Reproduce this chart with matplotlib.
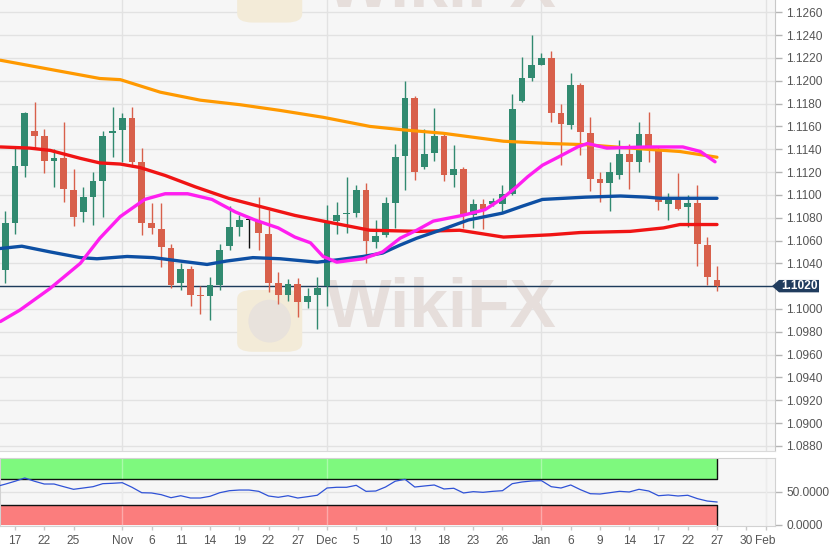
import matplotlib
matplotlib.use('agg')
import matplotlib.pyplot as plt
from matplotlib.patches import Polygon, FancyBboxPatch, Ellipse
from matplotlib.ticker import FormatStrFormatter, FuncFormatter
import numpy as np
import pandas as pd

plt.rcParams['font.family'] = ['Liberation Sans', 'DejaVu Sans']

# EUR/USD daily candles, weekdays 16 Oct 2019 - 27 Jan 2020
dates = pd.bdate_range('2019-10-16', '2020-01-27')
axis_dates = pd.bdate_range('2019-10-16', '2020-02-03')

opens = [1.1034, 1.1075, 1.1125, 1.1156, 1.1152, 1.1130, 1.1132, 1.1104, 1.1085, 1.1098,
         1.1112, 1.1154, 1.1157, 1.1167, 1.1129, 1.1075, 1.1070, 1.1053, 1.1023, 1.1035,
         1.1012, 1.1011, 1.1021, 1.1055, 1.1072, 1.1078, 1.1077, 1.1066, 1.1023, 1.1012,
         1.1022, 1.1006, 1.1012, 1.1020, 1.1077, 1.1083, 1.1084, 1.1104, 1.1059, 1.1065,
         1.1093, 1.1134, 1.1185, 1.1124, 1.1137, 1.1152, 1.1117, 1.1123, 1.1082, 1.1092,
         1.1092, 1.1092, 1.1101, 1.1182, 1.1202, 1.1214, 1.1220, 1.1172, 1.1161, 1.1196,
         1.1154, 1.1114, 1.1110, 1.1117, 1.1136, 1.1129, 1.1153, 1.1139, 1.1092, 1.1097,
         1.1089, 1.1093, 1.1056, 1.1025]
highs = [1.1086, 1.1141, 1.1173, 1.1181, 1.1158, 1.1140, 1.1164, 1.1123, 1.1107, 1.1120,
         1.1156, 1.1177, 1.1172, 1.1177, 1.1141, 1.1093, 1.1093, 1.1057, 1.1040, 1.1038,
         1.1020, 1.1028, 1.1057, 1.1090, 1.1082, 1.1081, 1.1098, 1.1087, 1.1032, 1.1026,
         1.1027, 1.1018, 1.1028, 1.1091, 1.1094, 1.1116, 1.1109, 1.1110, 1.1078, 1.1098,
         1.1145, 1.1200, 1.1187, 1.1158, 1.1176, 1.1154, 1.1144, 1.1124, 1.1096, 1.1096,
         1.1097, 1.1109, 1.1188, 1.1221, 1.1240, 1.1224, 1.1226, 1.1180, 1.1207, 1.1198,
         1.1168, 1.1120, 1.1129, 1.1148, 1.1145, 1.1164, 1.1173, 1.1142, 1.1102, 1.1119,
         1.1100, 1.1109, 1.1063, 1.1038]
lows = [1.1023, 1.1066, 1.1116, 1.1142, 1.1119, 1.1107, 1.1094, 1.1073, 1.1076, 1.1074,
        1.1081, 1.1133, 1.1129, 1.1124, 1.1065, 1.1066, 1.1037, 1.1018, 1.1017, 1.1003,
        1.0996, 1.0990, 1.1017, 1.1052, 1.1064, 1.1053, 1.1052, 1.1015, 1.1004, 1.1007,
        1.0993, 1.1001, 1.0982, 1.1003, 1.1066, 1.1067, 1.1081, 1.1040, 1.1053, 1.1063,
        1.1071, 1.1104, 1.1113, 1.1123, 1.1130, 1.1112, 1.1107, 1.1071, 1.1071, 1.1070,
        1.1090, 1.1085, 1.1100, 1.1181, 1.1200, 1.1214, 1.1164, 1.1126, 1.1158, 1.1135,
        1.1103, 1.1094, 1.1086, 1.1114, 1.1105, 1.1120, 1.1129, 1.1087, 1.1078, 1.1087,
        1.1072, 1.1038, 1.1021, 1.1016]
closes = [1.1075, 1.1125, 1.1172, 1.1152, 1.1130, 1.1132, 1.1105, 1.1081, 1.1098, 1.1112,
          1.1152, 1.1156, 1.1167, 1.1129, 1.1075, 1.1071, 1.1054, 1.1021, 1.1035, 1.1012,
          1.1011, 1.1021, 1.1052, 1.1072, 1.1078, 1.1078, 1.1067, 1.1023, 1.1012, 1.1022,
          1.1006, 1.1011, 1.1018, 1.1075, 1.1082, 1.1084, 1.1104, 1.1060, 1.1064, 1.1093,
          1.1133, 1.1185, 1.1120, 1.1136, 1.1152, 1.1117, 1.1123, 1.1082, 1.1092, 1.1088,
          1.1095, 1.1101, 1.1175, 1.1202, 1.1214, 1.1220, 1.1172, 1.1162, 1.1196, 1.1155,
          1.1114, 1.1110, 1.1120, 1.1136, 1.1129, 1.1153, 1.1139, 1.1094, 1.1097, 1.1088,
          1.1093, 1.1057, 1.1028, 1.1020]

# moving averages (x = trading-day index from 16 Oct)
sma20_x = [-0.5, 1.5, 4.6, 7.7, 9.7, 11.8, 14.3, 16.4, 18.7, 21.2, 23.6, 25.6, 28.0, 29.7,
           31.3, 32.6, 34.0, 36.7, 38.7, 40.5, 42.2, 43.9, 46.9, 49.2, 51.0, 52.3, 53.6,
           55.1, 56.7, 58.7, 59.7, 61.7, 65.8, 69.5, 71.3, 72.8]
sma20_y = [1.0989, 1.0999, 1.1018, 1.1040, 1.1062, 1.1081, 1.1096, 1.1101, 1.1101, 1.1096,
           1.1085, 1.1078, 1.1071, 1.1063, 1.1058, 1.1046, 1.1041, 1.1044, 1.1050, 1.1062,
           1.1069, 1.1077, 1.1082, 1.1087, 1.1097, 1.1106, 1.1116, 1.1126, 1.1133, 1.1142,
           1.1145, 1.1141, 1.1142, 1.1142, 1.1138, 1.1129]
sma50_x = [-0.5, 1.7, 4.6, 7.7, 9.4, 12.5, 15.2, 17.9, 20.7, 22.7, 25.4, 28.2, 32.0, 34.0,
           36.7, 38.7, 40.5, 42.2, 44.6, 47.5, 51.0, 53.0, 55.1, 59.5, 63.1, 65.8, 67.2, 73.0]
sma50_y = [1.1053, 1.1055, 1.1050, 1.1045, 1.1044, 1.1046, 1.1045, 1.1042, 1.1039, 1.1042,
           1.1045, 1.1044, 1.1041, 1.1043, 1.1046, 1.1049, 1.1056, 1.1062, 1.1069, 1.1078,
           1.1084, 1.1090, 1.1096, 1.1098, 1.1099, 1.1098, 1.1097, 1.1097]
sma100_x = [-0.5, 2.5, 4.6, 7.7, 9.7, 11.8, 13.8, 16.4, 19.5, 22.9, 25.6, 29.7, 32.6, 37.4,
            42.5, 46.6, 51.1, 55.9, 59.0, 64.1, 67.5, 69.2, 73.0]
sma100_y = [1.1142, 1.1141, 1.1139, 1.1132, 1.1128, 1.1127, 1.1124, 1.1117, 1.1107, 1.1097,
            1.1091, 1.1082, 1.1077, 1.1069, 1.1068, 1.1069, 1.1063, 1.1065, 1.1067, 1.1068,
            1.1071, 1.1074, 1.1074]
sma200_x = [-0.5, 9.7, 11.8, 15.9, 20.0, 24.1, 28.2, 32.6, 37.4, 40.8, 44.9, 51.1, 55.9,
            59.5, 64.1, 69.2, 73.0]
sma200_y = [1.1218, 1.1202, 1.1201, 1.1190, 1.1183, 1.1179, 1.1174, 1.1168, 1.1160, 1.1157,
            1.1154, 1.1147, 1.1145, 1.1144, 1.1141, 1.1138, 1.1133]

# oscillator, 15 Oct 2019 - 27 Jan 2020
rsi_dates = pd.bdate_range('2019-10-15', '2020-01-27')
rsi = [58.0, 62.0, 66.4, 71.4, 66.4, 62.2, 62.2, 58.1, 54.1, 56.1, 58.1,
       62.7, 63.3, 64.2, 57.2, 48.9, 48.5, 45.9, 41.3, 44.3, 40.8,
       40.8, 43.4, 48.9, 52.0, 53.0, 53.0, 51.0, 43.9, 41.9, 44.3,
       40.8, 42.8, 45.0, 56.1, 57.2, 57.2, 60.2, 51.0, 51.5, 57.6,
       66.5, 69.4, 57.6, 59.2, 60.7, 54.6, 55.7, 48.5, 50.5, 49.5,
       51.0, 52.0, 62.7, 65.3, 66.8, 67.3, 58.1, 56.1, 60.7, 53.5,
       47.4, 46.9, 48.9, 51.0, 50.0, 54.1, 51.5, 44.3, 45.4, 43.9,
       45.0, 39.8, 36.2, 34.7]
rsi_low, rsi_high = 30, 70

tick_dates = ['2019-10-17', '2019-10-22', '2019-10-25', '2019-11-01', '2019-11-06',
              '2019-11-11', '2019-11-14', '2019-11-19', '2019-11-22', '2019-11-27',
              '2019-12-02', '2019-12-05', '2019-12-10', '2019-12-13', '2019-12-18',
              '2019-12-23', '2019-12-26', '2020-01-01', '2020-01-06', '2020-01-09',
              '2020-01-14', '2020-01-17', '2020-01-22', '2020-01-27', '2020-01-30',
              '2020-02-03']
tick_labels = ['17', '22', '25', 'Nov', '6', '11', '14', '19', '22', '27', 'Dec', '5', '10',
               '13', '18', '23', '26', 'Jan', '6', '9', '14', '17', '22', '27', '30', 'Feb']
month_starts = ['2019-11-01', '2019-12-02', '2020-01-01', '2020-02-03']


def day_index(d):
    return axis_dates.get_loc(pd.Timestamp(d))


def price_label(v, pos):
    # the last price gets its own tag, so leave that tick label empty
    if abs(v - closes[-1]) < 1e-6:
        return ''
    return f'{v:.4f}'


W, H = 830, 555
fig = plt.figure(figsize=(W / 100, H / 100), dpi=100)
fig.patch.set_facecolor('white')
ax = fig.add_axes([0, 1 - 451 / H, 775 / W, 451 / H])
ax2 = fig.add_axes([0, (H - 525.5) / H, 775 / W, 67.8 / H])

bg = '#f6f6f6'
grid_c = '#e2e2e2'
xlim = (-0.54, 78.95)

# ---- main panel
ax.set_facecolor(bg)
ax.set_xlim(*xlim)
ax.set_ylim(1.08755, 1.12708)
ax.set_yticks(np.round(np.arange(1.088, 1.12605, 0.002), 4))
ax.yaxis.set_major_formatter(FuncFormatter(price_label))
ax.grid(axis='y', color=grid_c, lw=1, zorder=0)
ax.set_axisbelow(True)
for d in month_starts:
    ax.axvline(day_index(d), color=grid_c, lw=1, zorder=0)
ax.set_xticks([])

# watermark
ax.text(0.57, 0.315, 'WikiFX', transform=ax.transAxes, ha='center', va='center',
        fontsize=50, fontweight='bold', color='#e6dedb', zorder=1)
ax.add_patch(FancyBboxPatch((0.306, 0.22), 0.084, 0.137, transform=ax.transAxes,
                            boxstyle='round,pad=0,rounding_size=0.02', fc='#f3ebd8',
                            ec='none', zorder=1))
ax.add_patch(Ellipse((0.348, 0.288), 0.055, 0.095, transform=ax.transAxes,
                     fc='#e8e2dc', ec='none', zorder=1))
ax.text(0.57, 1.025, 'WikiFX', transform=ax.transAxes, ha='center', va='center',
        fontsize=50, fontweight='bold', color='#e6dedb', zorder=1, clip_on=True)
ax.add_patch(FancyBboxPatch((0.306, 0.95), 0.084, 0.137, transform=ax.transAxes,
                            boxstyle='round,pad=0,rounding_size=0.02', fc='#f3ebd8',
                            ec='none', zorder=1, clip_on=True))

# candles
x = np.array([day_index(d) for d in dates])
o = np.array(opens)
c = np.array(closes)
cols = np.where(c > o, '#318a70', np.where(c < o, '#d8604b', '#111111'))
ax.vlines(x, lows, highs, colors=cols, lw=1, zorder=3)
body = np.maximum(np.abs(c - o), 0.00009)
ax.bar(x, body, bottom=np.minimum(o, c), width=0.68, color=cols, lw=0, zorder=3)

# current price line
ax.axhline(closes[-1], color='#1d3b5c', lw=1, zorder=2)

# moving averages
ax.plot(sma200_x, sma200_y, color='#ff9900', lw=2.3, zorder=4, solid_capstyle='round')
ax.plot(sma100_x, sma100_y, color='#f01414', lw=2.4, zorder=4, solid_capstyle='round')
ax.plot(sma50_x, sma50_y, color='#0d4fa3', lw=2.4, zorder=4, solid_capstyle='round')
ax.plot(sma20_x, sma20_y, color='#ff1ef0', lw=2.4, zorder=4, solid_capstyle='round')

ax.yaxis.tick_right()
ax.tick_params(axis='y', direction='out', length=5, width=1, color='#b5b5b5',
               labelcolor='#555555', labelsize=8.6, pad=3)
for s in ['left', 'top']:
    ax.spines[s].set_visible(False)
ax.spines['right'].set_color('#c8c8c8')
ax.spines['bottom'].set_color('#dadada')

# ---- oscillator panel
ax2.set_facecolor(bg)
ax2.set_xlim(*xlim)
ax2.set_ylim(-1.2, 102.4)
rx = [day_index(d) if d in axis_dates else day_index(axis_dates[0]) - 1 for d in rsi_dates]
band_end = x[-1]
ax2.fill_between([xlim[0], band_end], rsi_high, 100, color='#7ef97e', lw=0, zorder=1)
ax2.fill_between([xlim[0], band_end], 0, rsi_low, color='#fb7d7d', lw=0, zorder=1)
ax2.plot([xlim[0], band_end, band_end], [rsi_high, rsi_high, 100], color='#111111', lw=1, zorder=2)
ax2.plot([xlim[0], band_end, band_end], [rsi_low, rsi_low, 0], color='#111111', lw=1, zorder=2)
ax2.axhline(50, color=grid_c, lw=1, zorder=0)
for d in month_starts:
    ax2.axvline(day_index(d), color=grid_c, lw=1, zorder=0)
    ax2.axvline(day_index(d), color='white', lw=1, alpha=0.35, zorder=1.5)
ax2.plot(rx, rsi, color='#2f52d6', lw=0.9, zorder=3)

ax2.yaxis.tick_right()
ax2.set_yticks([0, 50])
ax2.yaxis.set_major_formatter(FormatStrFormatter('%.4f'))
ax2.set_xticks([day_index(d) for d in tick_dates])
ax2.set_xticklabels(tick_labels)
ax2.tick_params(axis='y', direction='out', length=5, width=1, color='#b5b5b5',
                labelcolor='#555555', labelsize=8.6, pad=3)
ax2.tick_params(axis='x', direction='out', length=3, width=1, color='#c8c8c8',
                labelcolor='#555555', labelsize=8.6, pad=4)
for s in ax2.spines.values():
    s.set_color('#d2d2d2')

# price tag on the right axis
yd = ax.transData.transform((0, closes[-1]))[1]
yf = fig.transFigure.inverted().transform((0, yd))[1]
hh = 6.2 / H
tag = Polygon([(772 / W, yf), (779 / W, yf + hh), (819 / W, yf + hh),
               (819 / W, yf - hh), (779 / W, yf - hh)], closed=True,
              transform=fig.transFigure, fc='#203c5e', ec='none', zorder=10)
fig.patches.append(tag)
fig.text(799.5 / W, yf, f'{closes[-1]:.4f}', ha='center', va='center', color='white',
         fontsize=8.6, fontweight='bold', zorder=11)

fig.savefig('out.png', dpi=100, facecolor='white')
